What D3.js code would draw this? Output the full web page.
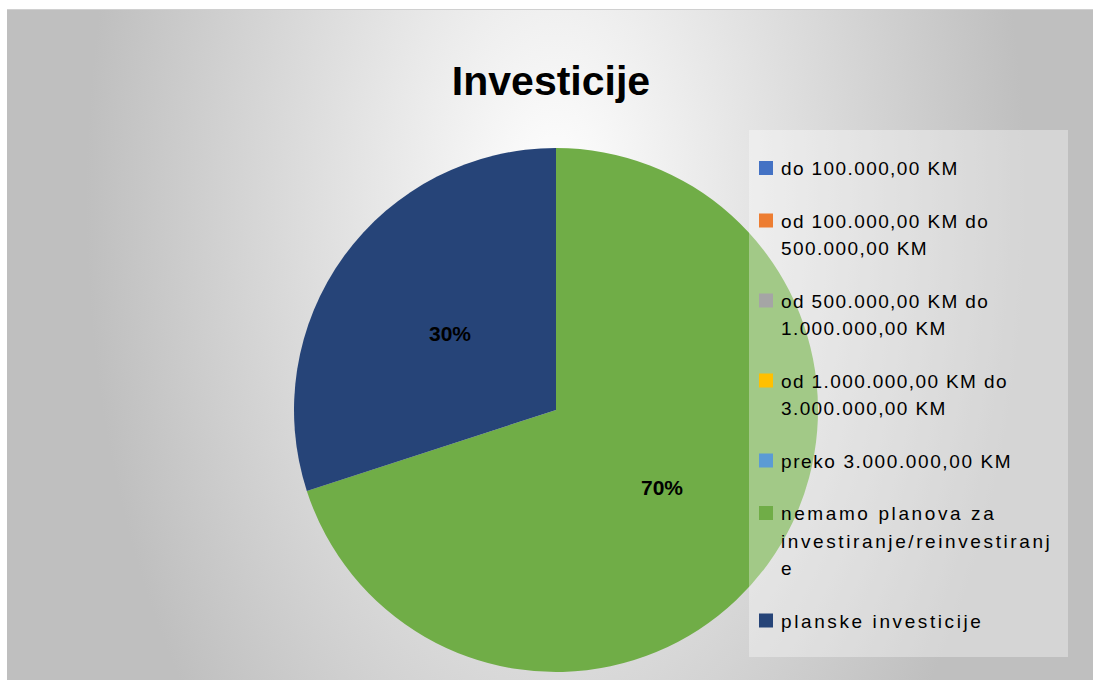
<!DOCTYPE html>
<html>
<head>
<meta charset="utf-8">
<script src="https://cdn.jsdelivr.net/npm/d3@7"></script>
<style>
  body { margin: 0; background: #fff; }
  svg { display: block; }
</style>
</head>
<body>
<svg width="1093" height="680"></svg>
<script>
var categories = ['do 100.000,00 KM',
                  'od 100.000,00 KM do 500.000,00 KM',
                  'od 500.000,00 KM do 1.000.000,00 KM',
                  'od 1.000.000,00 KM do 3.000.000,00 KM',
                  'preko 3.000.000,00 KM',
                  'nemamo planova za investiranje/reinvestiranje',
                  'planske investicije'];
// legend lines as Excel wrapped them
var legendLines = [['do 100.000,00 KM'],
                   ['od 100.000,00 KM do', '500.000,00 KM'],
                   ['od 500.000,00 KM do', '1.000.000,00 KM'],
                   ['od 1.000.000,00 KM do', '3.000.000,00 KM'],
                   ['preko 3.000.000,00 KM'],
                   ['nemamo planova za', 'investiranje/reinvestiranj', 'e'],
                   ['planske investicije']];
var values = [0, 0, 0, 0, 0, 70, 30];
var colors = ['#4472C4', '#ED7D31', '#A5A5A5', '#FFC000', '#5B9BD5', '#70AD47', '#264478'];

var svg = d3.select('svg');
var font = '"Liberation Sans", Arial, sans-serif';

// background gradient
var defs = svg.append('defs');
var grad = defs.append('radialGradient')
  .attr('id', 'bg')
  .attr('gradientUnits', 'userSpaceOnUse')
  .attr('cx', 0).attr('cy', 0).attr('r', 1)
  .attr('gradientTransform', 'translate(556,200) scale(470,800)');
grad.append('stop').attr('offset', 0).attr('stop-color', '#ffffff');
grad.append('stop').attr('offset', 1).attr('stop-color', '#bfbfbf');

svg.append('rect')
  .attr('x', 7).attr('y', 9)
  .attr('width', 1086).attr('height', 671)
  .attr('fill', 'url(#bg)');
svg.append('line')
  .attr('x1', 7).attr('y1', 9.5)
  .attr('x2', 1093).attr('y2', 9.5)
  .attr('stroke', '#d0d0d0')
  .attr('stroke-width', 1);

// title
svg.append('text')
  .attr('x', 551).attr('y', 95)
  .attr('text-anchor', 'middle')
  .attr('font-family', font)
  .attr('font-weight', 'bold')
  .attr('font-size', 41)
  .attr('fill', '#000')
  .text('Investicije');

// pie
var R = 262;
var pie = d3.pie().sort(null).value(function(d) { return d; });
var arc = d3.arc().innerRadius(0).outerRadius(R);
var g = svg.append('g').attr('transform', 'translate(556,410)');
var arcs = pie(values);

g.selectAll('path')
  .data(arcs)
  .enter().append('path')
  .attr('d', arc)
  .attr('fill', function(d, i) { return colors[i]; });

var total = d3.sum(values);
g.selectAll('text')
  .data(arcs.filter(function(d) { return d.value > 0; }))
  .enter().append('text')
  .attr('x', function(d) { return arc.centroid(d)[0]; })
  .attr('y', function(d) { return arc.centroid(d)[1] + 8; })
  .attr('text-anchor', 'middle')
  .attr('font-family', font)
  .attr('font-weight', 'bold')
  .attr('font-size', 21)
  .attr('fill', '#000')
  .text(function(d) { return Math.round(d.value / total * 100) + '%'; });

// legend
svg.append('rect')
  .attr('x', 749).attr('y', 130)
  .attr('width', 319).attr('height', 527)
  .attr('fill', '#ffffff')
  .attr('fill-opacity', 0.35);

var lineH = 27.5, itemGap = 25;
var y = 168;
legendLines.forEach(function(lines, i) {
  svg.append('rect')
    .attr('x', 759).attr('y', y - 7)
    .attr('width', 14).attr('height', 14)
    .attr('fill', colors[i]);
  lines.forEach(function(t, j) {
    svg.append('text')
      .attr('x', 781).attr('y', y + 7 + j * lineH)
      .attr('font-family', font)
      .attr('font-size', 19)
      .attr('letter-spacing', i >= 5 ? 2.6 : (i == 4 ? 1.6 : 1.4))
      .attr('fill', '#000')
      .text(t);
  });
  y += lines.length * lineH + itemGap;
});
</script>
</body>
</html>
